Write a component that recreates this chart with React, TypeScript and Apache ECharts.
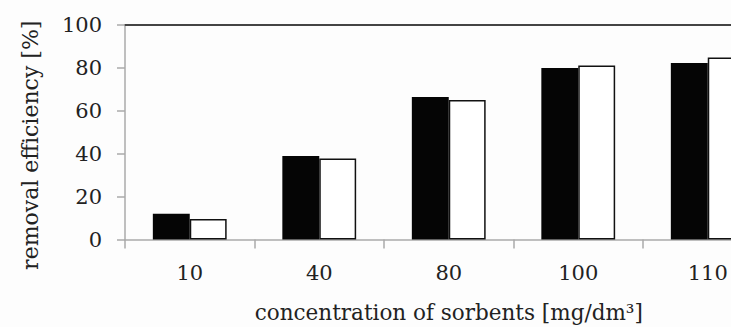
import React, { useEffect, useRef } from "react";
import * as echarts from "echarts";

const categories = ["10", "40", "80", "100", "110"];
const seriesBlack = [12, 38.9, 66.4, 80, 82.3];
const seriesWhite = [9.6, 37.8, 65, 81.1, 84.9];
const yTicks = { min: 0, max: 100, interval: 20 };
const xName = "concentration of sorbents [mg/dm³]";
const yName = "removal efficiency [%]";

const FONT = "DejaVu Serif";

export default function App() {
  const ref = useRef<HTMLDivElement>(null);
  useEffect(() => {
    if (!ref.current) return;
    const chart = echarts.init(ref.current, undefined, { renderer: "svg" });
    chart.setOption({
      animation: false,
      backgroundColor: "#fdfdfd",
      grid: { left: 125, top: 25, bottom: 87.5, right: 27.5, containLabel: false, outerBoundsMode: "none" },
      xAxis: [
        {
          type: "category",
          data: categories,
          position: "bottom",
          name: xName,
          nameLocation: "middle",
          nameGap: 62,
          nameTextStyle: { fontFamily: FONT, fontSize: 21.5, color: "#222" },
          axisLine: { show: true, lineStyle: { color: "#aaa", width: 1.5 } },
          axisTick: { show: true, length: 9, alignWithLabel: false, lineStyle: { color: "#aaa", width: 1.5 } },
          axisLabel: { fontFamily: FONT, fontSize: 21, color: "#222", margin: 23 },
        },
        {
          type: "category",
          data: categories,
          position: "top",
          axisLine: { show: true, lineStyle: { color: "#444", width: 2 } },
          axisTick: { show: false },
          axisLabel: { show: false },
        },
      ],
      yAxis: {
        type: "value",
        min: yTicks.min,
        max: yTicks.max,
        interval: yTicks.interval,
        name: yName,
        nameLocation: "middle",
        nameRotate: 90,
        nameGap: 84,
        nameTextStyle: { fontFamily: FONT, fontSize: 22, color: "#222", padding: [0, 26, 0, 0] },
        axisLine: { show: true, lineStyle: { color: "#aaa", width: 1.5 } },
        axisTick: { show: true, length: 8, lineStyle: { color: "#aaa", width: 1.5 } },
        splitLine: { show: false },
        axisLabel: { fontFamily: FONT, fontSize: 21, color: "#222", margin: 23 },
      },
      series: [
        {
          type: "bar",
          data: seriesBlack,
          barGap: "0%",
          barCategoryGap: "43%",
          itemStyle: { color: "#050505" },
        },
        {
          type: "bar",
          data: seriesWhite,
          barGap: "0%",
          barCategoryGap: "43%",
          itemStyle: { color: "#ffffff", borderColor: "#111", borderWidth: 1.5 },
        },
      ],
    });
    return () => chart.dispose();
  }, []);
  return (
    <div style={{ position: "fixed", left: 0, top: 0, width: 731, height: 327, overflow: "hidden", background: "#fdfdfd" }}>
      <div ref={ref} style={{ width: 800, height: 327 }} />
    </div>
  );
}
